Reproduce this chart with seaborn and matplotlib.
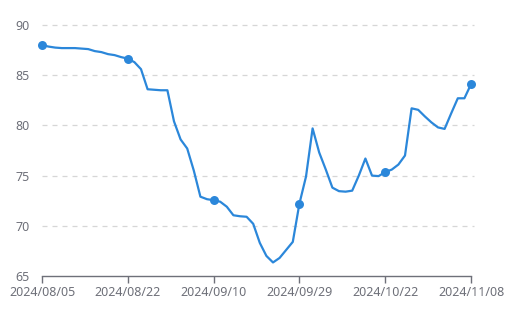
import matplotlib
matplotlib.use("Agg")
import matplotlib.pyplot as plt
import seaborn as sns
import pandas as pd

dates = [
    "2024/08/05", "2024/08/06", "2024/08/07", "2024/08/08", "2024/08/09", "2024/08/12", "2024/08/13",
    "2024/08/14", "2024/08/15", "2024/08/16", "2024/08/19", "2024/08/20", "2024/08/21", "2024/08/22",
    "2024/08/23", "2024/08/26", "2024/08/27", "2024/08/28", "2024/08/29", "2024/08/30", "2024/09/02",
    "2024/09/03", "2024/09/04", "2024/09/05", "2024/09/06", "2024/09/09", "2024/09/10",
    "2024/09/11", "2024/09/12", "2024/09/13", "2024/09/14", "2024/09/18", "2024/09/19", "2024/09/20",
    "2024/09/23", "2024/09/24", "2024/09/25", "2024/09/26", "2024/09/27", "2024/09/29",
    "2024/09/30", "2024/10/08", "2024/10/09", "2024/10/10", "2024/10/11", "2024/10/12", "2024/10/14",
    "2024/10/15", "2024/10/16", "2024/10/17", "2024/10/18", "2024/10/21", "2024/10/22",
    "2024/10/23", "2024/10/24", "2024/10/25", "2024/10/28", "2024/10/29", "2024/10/30", "2024/10/31",
    "2024/11/01", "2024/11/04", "2024/11/05", "2024/11/06", "2024/11/07", "2024/11/08",
]
values = [
    88.0, 87.85, 87.75, 87.7, 87.7, 87.7, 87.65, 87.6, 87.4, 87.3, 87.1, 87.0, 86.8, 86.65,
    86.3, 85.6, 83.6, 83.55, 83.5, 83.5, 80.4, 78.6, 77.7, 75.5, 72.9, 72.65, 72.55,
    72.4, 71.9, 71.05, 70.95, 70.9, 70.2, 68.3, 67.0, 66.35, 66.8, 67.6, 68.4, 72.2,
    74.9, 79.7, 77.3, 75.6, 73.8, 73.45, 73.4, 73.5, 75.0, 76.7, 75.0, 74.95, 75.35,
    75.6, 76.1, 77.0, 81.7, 81.55, 80.9, 80.3, 79.8, 79.65, 81.2, 82.7, 82.7, 84.1,
]
y_ticks = [65, 70, 75, 80, 85, 90]
label_step = 13

df = pd.DataFrame({"date": dates, "value": values})
df["pos"] = range(len(df))
marks = df.iloc[::label_step]

sns.set_theme(style="white")
plt.rcParams["font.family"] = ["Noto Sans", "DejaVu Sans"]

fig = plt.figure(figsize=(5.14, 3.13), dpi=100)
ax = fig.add_axes([42 / 514, 1 - 276 / 313, (471 - 42) / 514, (276 - 25) / 313])

line_color = "#2b87da"
sns.lineplot(data=df, x="pos", y="value", ax=ax, color=line_color, linewidth=1.6)
sc = sns.scatterplot(data=marks, x="pos", y="value", ax=ax, color=line_color, s=42,
                     edgecolor=line_color, linewidth=0, zorder=5)
for coll in ax.collections:
    coll.set_clip_on(False)

ax.set_xlim(0, len(df) - 1)
ax.set_ylim(65, 90)
ax.set_yticks(y_ticks)
ax.set_yticklabels([str(v) for v in y_ticks])
ax.set_xticks(marks["pos"].tolist())
ax.set_xticklabels(marks["date"].tolist())
ax.set_xlabel("")
ax.set_ylabel("")

for v in y_ticks[1:]:
    ax.axhline(v, color="#d6d6d6", linewidth=0.9, linestyle=(0, (4, 4)), zorder=0, xmax=1.006,
               clip_on=False)

for s in ["top", "right", "left"]:
    ax.spines[s].set_visible(False)
ax.spines["bottom"].set_color("#6e7079")
ax.spines["bottom"].set_linewidth(1.0)

ax.tick_params(axis="x", colors="#6e7079", labelcolor="#6e7079", length=5, width=1,
               direction="out", pad=2, labelsize=9, bottom=True)
ax.tick_params(axis="y", colors="#6e7079", labelcolor="#6e7079", length=0, pad=9, labelsize=9)

fig.savefig("out.png", dpi=100)
